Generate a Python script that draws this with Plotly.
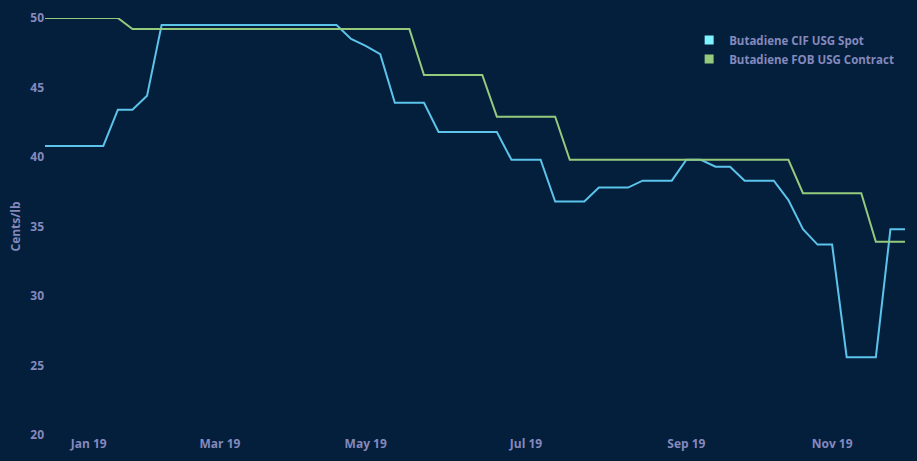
import plotly.graph_objects as go

# Ordinal (evenly spaced) observation index, Dec 2018 .. Nov 2019
idx = list(range(60))

spot_cif_usg = [
    40.8, 40.8, 40.8, 40.8, 40.8, 43.4, 43.4, 44.4, 49.5, 49.5,
    49.5, 49.5, 49.5, 49.5, 49.5, 49.5, 49.5, 49.5, 49.5, 49.5,
    49.5, 48.5, 48.0, 47.4, 43.9, 43.9, 43.9, 41.8, 41.8, 41.8,
    41.8, 41.8, 39.8, 39.8, 39.8, 36.8, 36.8, 36.8, 37.8, 37.8,
    37.8, 38.3, 38.3, 38.3, 39.8, 39.8, 39.3, 39.3, 38.3, 38.3,
    38.3, 36.9, 34.8, 33.7, 33.7, 25.6, 25.6, 25.6, 34.8, 34.8,
]

contract_fob_usg = [
    50.0, 50.0, 50.0, 50.0, 50.0, 50.0, 49.2, 49.2, 49.2, 49.2,
    49.2, 49.2, 49.2, 49.2, 49.2, 49.2, 49.2, 49.2, 49.2, 49.2,
    49.2, 49.2, 49.2, 49.2, 49.2, 49.2, 45.9, 45.9, 45.9, 45.9,
    45.9, 42.9, 42.9, 42.9, 42.9, 42.9, 39.8, 39.8, 39.8, 39.8,
    39.8, 39.8, 39.8, 39.8, 39.8, 39.8, 39.8, 39.8, 39.8, 39.8,
    39.8, 39.8, 37.4, 37.4, 37.4, 37.4, 37.4, 33.9, 33.9, 33.9,
]

month_tick_idx = [3, 12, 22, 33, 44, 54]
month_tick_text = ["Jan 19", "Mar 19", "May 19", "Jul 19", "Sep 19", "Nov 19"]
y_ticks = [20, 25, 30, 35, 40, 45, 50]

series_names = ["Butadiene CIF USG Spot", "Butadiene FOB USG Contract"]
line_colors = ["#5cc3ea", "#95c97c"]
legend_colors = ["#7ff3ff", "#95c97c"]

BG = "#031f3c"
TXT = "#8589bd"
FONT = "Open Sans"
fnt = dict(family=FONT, size=12, color=TXT, weight="bold")

fig = go.Figure()
for name, ys, lc in zip(series_names, [spot_cif_usg, contract_fob_usg], line_colors):
    fig.add_trace(go.Scatter(x=idx, y=ys, mode="lines", name=name,
                             line=dict(color=lc, width=2), showlegend=False,
                             hovertemplate="%{y:.2f}<extra>" + name + "</extra>"))
for name, lgc in zip(series_names, legend_colors):
    fig.add_trace(go.Scatter(x=[None], y=[None], mode="markers", name=name,
                             marker=dict(symbol="square", size=9, color=lgc)))

fig.update_layout(
    width=917, height=461,
    paper_bgcolor=BG, plot_bgcolor=BG,
    margin=dict(l=45, r=12, t=18, b=26, autoexpand=False),
    font=fnt,
    legend=dict(x=0.749, y=0.982, xanchor="left", yanchor="top",
                bgcolor="rgba(0,0,0,0)", tracegroupgap=0, itemwidth=30,
                font=dict(family=FONT, size=11.5, color=TXT, weight="bold")),
    xaxis=dict(range=[0, 59], showgrid=False, zeroline=False, showline=False,
               automargin=False,
               tickmode="array", tickvals=month_tick_idx, ticktext=month_tick_text,
               ticks="", tickfont=fnt),
    yaxis=dict(range=[20, 50], showgrid=False, zeroline=False, showline=False,
               automargin=False,
               tickmode="array", tickvals=y_ticks, ticks="",
               tickfont=fnt,
               title=dict(text="Cents/lb", standoff=7, font=fnt)),
)

fig.write_html(
    "out.html",
    config={"displayModeBar": False},
    post_script="document.body.style.margin='0';document.body.style.background='%s';" % BG,
)
